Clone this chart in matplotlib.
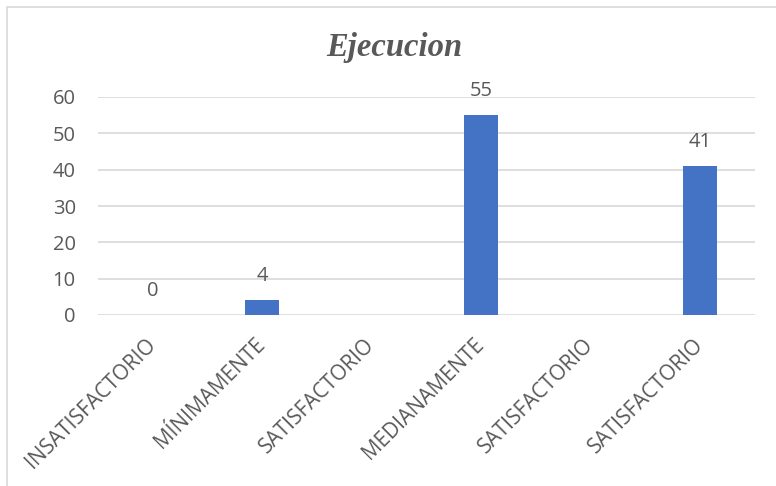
import matplotlib
matplotlib.use('Agg')
import matplotlib.pyplot as plt
from matplotlib.patches import Rectangle
import numpy as np

# datos del grafico
categorias = ['INSATISFACTORIO', 'MÍNIMAMENTE', 'SATISFACTORIO',
              'MEDIANAMENTE', 'SATISFACTORIO', 'SATISFACTORIO']
valores = [0, 4, None, 55, None, 41]
y_ticks = [0, 10, 20, 30, 40, 50, 60]
titulo = 'Ejecucion'

gris = '#595959'
azul = '#4472C4'

plt.rcParams['font.family'] = ['Open Sans', 'DejaVu Sans']

fig = plt.figure(figsize=(7.76, 4.86), dpi=100)
ax = fig.add_axes([98 / 776, 1 - 315 / 486, 657 / 776, 218 / 486])

# marco del grafico (solo se ven el borde izquierdo y el superior)
fig.patches.append(Rectangle((7 / 776, -0.1), 1.2, 1 - 7 / 486 + 0.1,
                             transform=fig.transFigure, fill=False,
                             edgecolor='#d9d9d9', linewidth=1.2))

x = np.arange(len(categorias))
for i, v in enumerate(valores):
    if v is None:
        continue
    ax.bar(x[i], v, width=0.31, color=azul, zorder=3)
    ax.annotate(str(v), (x[i], v), xytext=(0, 17.5), textcoords='offset points',
                ha='center', va='center', fontsize=14.5, color=gris)

ax.set_xlim(-0.5, len(categorias) - 0.5)
ax.set_ylim(0, 60)
ax.set_yticks(y_ticks)
ax.set_xticks(x)
ax.set_xticklabels(categorias, rotation=45, ha='right', va='center',
                   rotation_mode='anchor')
ax.tick_params(axis='x', length=0, pad=19, labelsize=15, labelcolor=gris)
ax.tick_params(axis='y', length=0, pad=16, labelsize=14.5, labelcolor=gris)

ax.grid(axis='y', color='#d9d9d9', linewidth=1.2, zorder=0)
for s in ax.spines.values():
    s.set_visible(False)

fig.text(0.508, 1 - 47 / 486, titulo, ha='center', va='center',
         fontsize=23.5, fontweight='bold', fontstyle='italic',
         family='Liberation Serif', color=gris)

fig.savefig('out.png', dpi=100)
